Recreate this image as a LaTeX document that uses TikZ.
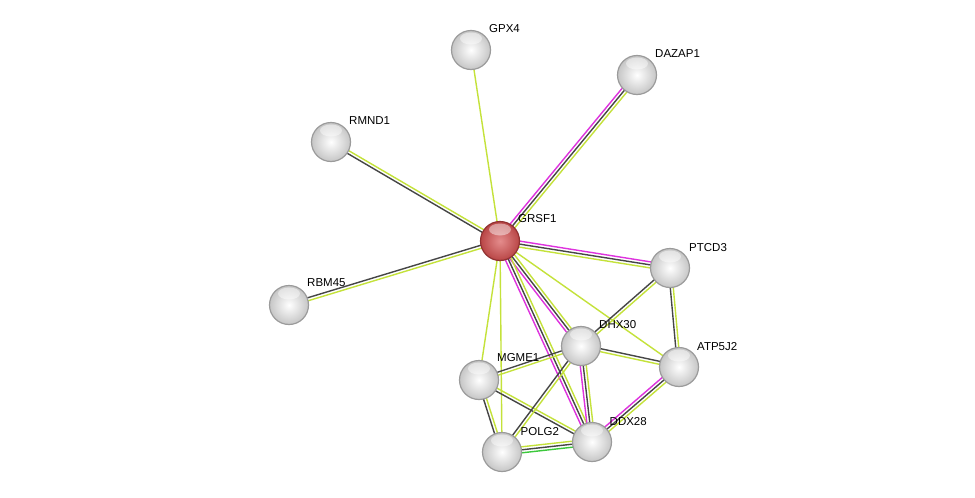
\documentclass[tikz,border=0pt]{standalone}
\usepackage{fontspec}
\setmainfont{Liberation Sans}
\usetikzlibrary{calc,backgrounds}
\definecolor{tm}{RGB}{196,226,58}
\definecolor{cx}{RGB}{70,70,70}
\definecolor{ex}{RGB}{222,50,222}
\definecolor{nb}{RGB}{60,200,60}
\definecolor{rimgray}{RGB}{155,155,155}
\definecolor{redin}{RGB}{228,140,140}
\definecolor{redout}{RGB}{185,70,70}
\definecolor{redrim}{RGB}{145,50,50}
\tikzset{
  prot/.style={circle, minimum size=39pt, inner sep=0pt, draw=rimgray, line width=1.2pt,
     inner color=white, outer color=gray!45,
     path picture={\fill[white,opacity=0.45] ([yshift=-8pt]path picture bounding box.north) ellipse (11pt and 6pt);}},
  seed/.style={prot, draw=redrim, inner color=redin, outer color=redout},
  lbl/.style={anchor=base west, inner sep=0pt, font=\fontsize{11.5}{13}\selectfont},
  ln/.style={line width=1.4pt}
}
\newcommand\lone[3]{\draw[ln,#3] (#1.center) -- (#2.center);}
\newcommand\ltwo[4]{%
  \draw[ln,#3] ($(#1.center)!1.5pt!90:(#2.center)$) -- ($(#2.center)!1.5pt!-90:(#1.center)$);
  \draw[ln,#4] ($(#1.center)!1.5pt!-90:(#2.center)$) -- ($(#2.center)!1.5pt!90:(#1.center)$);}
\newcommand\lthree[5]{%
  \draw[ln,#3] ($(#1.center)!3pt!90:(#2.center)$) -- ($(#2.center)!3pt!-90:(#1.center)$);
  \draw[ln,#4] (#1.center) -- (#2.center);
  \draw[ln,#5] ($(#1.center)!3pt!-90:(#2.center)$) -- ($(#2.center)!3pt!90:(#1.center)$);}
\begin{document}
\begin{tikzpicture}[x=1pt,y=-1pt]
\useasboundingbox (0,0) rectangle (975,498);
% nodes
\node[seed] (grsf1) at (500,241) {};
\node[prot] (gpx4) at (471,50) {};
\node[prot] (dazap1) at (637,75) {};
\node[prot] (rmnd1) at (331,142) {};
\node[prot] (rbm45) at (289,305) {};
\node[prot] (ptcd3) at (670,268) {};
\node[prot] (dhx30) at (581,346) {};
\node[prot] (atp5j2) at (679,367) {};
\node[prot] (mgme1) at (479,380) {};
\node[prot] (polg2) at (502,452) {};
\node[prot] (ddx28) at (592,442) {};
% labels
\node[lbl] (l1) at ($(grsf1)+(18,-19)$) {GRSF1};
\node[lbl] (l2) at ($(gpx4)+(18,-18)$) {GPX4};
\node[lbl] (l3) at ($(dazap1)+(18,-18)$) {DAZAP1};
\node[lbl] (l4) at ($(rmnd1)+(18,-18)$) {RMND1};
\node[lbl] (l5) at ($(rbm45)+(18,-18.5)$) {RBM45};
\node[lbl] (l6) at ($(ptcd3)+(19,-17)$) {PTCD3};
\node[lbl] (l7) at ($(dhx30)+(18,-18)$) {DHX30};
\node[lbl] (l8) at ($(atp5j2)+(18,-17)$) {ATP5J2};
\node[lbl] (l9) at ($(mgme1)+(18,-18.5)$) {MGME1};
\node[lbl] (l10) at ($(polg2)+(18.5,-17)$) {POLG2};
\node[lbl] (l11) at ($(ddx28)+(17.5,-17)$) {DDX28};
% edges
\begin{pgfonlayer}{background}
\fill[white] (0,0) rectangle (975,498);
\lone{grsf1}{gpx4}{tm}
\lthree{grsf1}{dazap1}{ex}{cx}{tm}
\ltwo{grsf1}{rmnd1}{cx}{tm}
\ltwo{grsf1}{rbm45}{tm}{cx}
\lthree{grsf1}{ptcd3}{ex}{cx}{tm}
\lthree{grsf1}{dhx30}{tm}{cx}{ex}
\lthree{grsf1}{ddx28}{tm}{cx}{ex}
\lone{grsf1}{atp5j2}{tm}
\lone{grsf1}{mgme1}{tm}
\lone{grsf1}{polg2}{tm}
\ltwo{ptcd3}{dhx30}{tm}{cx}
\ltwo{ptcd3}{atp5j2}{tm}{cx}
\ltwo{dhx30}{atp5j2}{cx}{tm}
\lthree{ddx28}{atp5j2}{ex}{cx}{tm}
\lthree{dhx30}{ddx28}{tm}{cx}{ex}
\ltwo{mgme1}{dhx30}{cx}{tm}
\ltwo{mgme1}{ddx28}{tm}{cx}
\ltwo{mgme1}{polg2}{tm}{cx}
\ltwo{dhx30}{polg2}{tm}{cx}
\lthree{polg2}{ddx28}{tm}{cx}{nb}
\end{pgfonlayer}
\end{tikzpicture}
\end{document}
